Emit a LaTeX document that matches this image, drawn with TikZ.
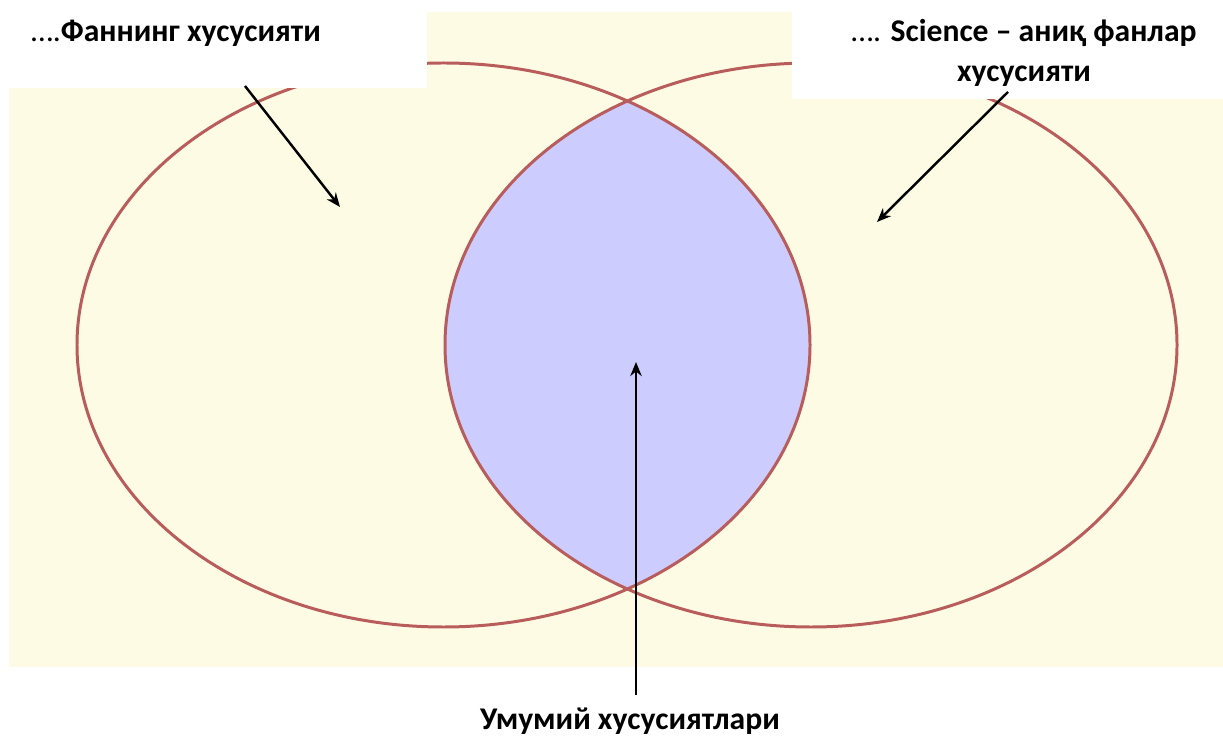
\documentclass[tikz,border=0pt]{standalone}
\usepackage{fontspec}
\setmainfont{Carlito}
\usetikzlibrary{arrows.meta}
\definecolor{cream}{RGB}{254,251,228}
\definecolor{lens}{RGB}{204,204,255}
\definecolor{rim}{RGB}{184,92,92}
\tikzset{
  label/.style={font=\fontsize{18}{23}\selectfont\bfseries, align=center, inner sep=0pt},
  ring/.style={draw=rim, line width=1.7pt},
  pointer/.style={-{Stealth[length=8pt,width=6.5pt]}, line width=1.4pt},
}
\begin{document}
\begin{tikzpicture}[x=0.02cm, y=-0.02cm]
        \useasboundingbox (0,0) rectangle (1223,742);
        % Background
        \fill[cream] (9,12) rectangle (1223,667);

        % Common part
        \begin{scope}
            \clip (443.5,345) ellipse (366.5 and 282);
            \fill[lens] (811,345) ellipse (366 and 282);
        \end{scope}

        % Two ellipses
        \draw[ring] (443.5,345) ellipse (366.5 and 282);
        \draw[ring] (811,345) ellipse (366 and 282);

        % White boxes behind the labels
        \fill[white] (0,0) rectangle (427,88);
        \fill[white] (792,0) rectangle (1223,99);

        % Labels
        \node[label, anchor=base] (fan) at (176,42) {\textmd{….}Фаннинг хусусияти};
        \node[label, anchor=north] (science) at (1024,19) {\textmd{….} Science – аниқ фанлар\\хусусияти};
        \node[label, anchor=base] (common) at (630,729) {Умумий хусусиятлари};

        % Arrows
        \coordinate (fanfrom) at (245,86);
        \coordinate (fanto) at (340,207);
        \coordinate (scifrom) at (1008,92);
        \coordinate (scito) at (877,222);
        \coordinate (comfrom) at (636,695);
        \coordinate (comto) at (636,362);
        \draw[pointer] (fanfrom) -- (fanto);
        \draw[pointer] (scifrom) -- (scito);
        \draw[pointer] (comfrom) -- (comto);
    \end{tikzpicture}
\end{document}
